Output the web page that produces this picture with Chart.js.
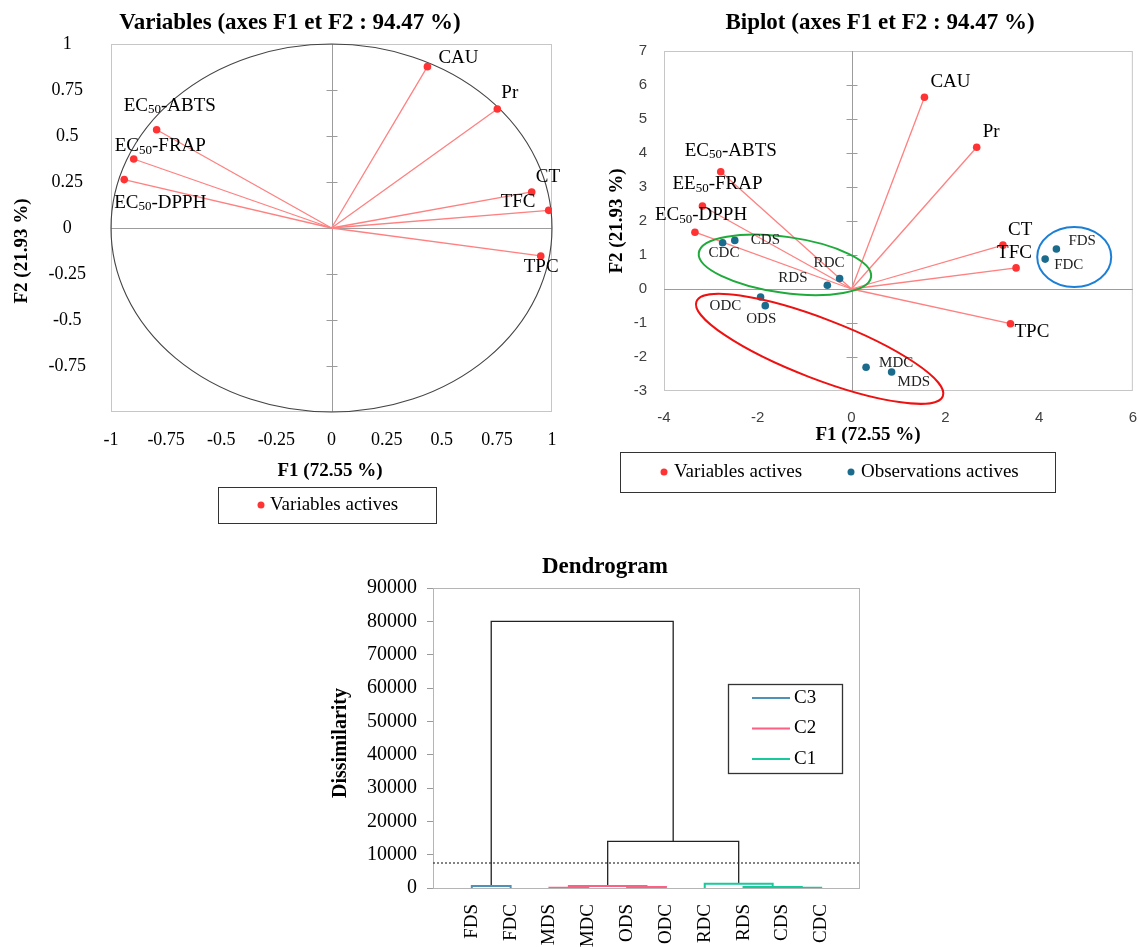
<!DOCTYPE html>
<html>
<head>
<meta charset="utf-8">
<title>ACP et dendrogramme</title>
<script src="https://cdn.jsdelivr.net/npm/chart.js"></script>
<style>
  html, body { margin: 0; padding: 0; background: #fff; overflow: hidden; }
  body { width: 1139px; height: 947px; position: relative; }
  .box { position: absolute; }
  #wrap1 { left: 0; top: 0; width: 575px; height: 530px; }
  #wrap2 { left: 575px; top: 0; width: 580px; height: 500px; }
  #wrap3 { left: 320px; top: 550px; width: 560px; height: 397px; }
</style>
</head>
<body>
<div class="box" id="wrap1"><canvas id="varChart" width="575" height="530"></canvas></div>
<div class="box" id="wrap2"><canvas id="biChart" width="580" height="500"></canvas></div>
<div class="box" id="wrap3"><canvas id="dendroChart" width="560" height="397"></canvas></div>
<script>
// ---- data ----
const varNames = ['CAU', 'Pr', 'EC50-ABTS', 'EC50-FRAP', 'EC50-DPPH', 'CT', 'TFC', 'TPC'];
const varF1 = [0.435, 0.752, -0.793, -0.897, -0.94, 0.908, 0.985, 0.949];
const varF2 = [0.877, 0.647, 0.534, 0.375, 0.263, 0.196, 0.096, -0.152];
const circleTicks = [-1, -0.75, -0.5, -0.25, 0, 0.25, 0.5, 0.75, 1];

const biVarNames = ['CAU', 'Pr', 'EC50-ABTS', 'EE50-FRAP', 'EC50-DPPH', 'CT', 'TFC', 'TPC'];
const biVarF1 = [1.555, 2.67, -2.79, -3.18, -3.34, 3.23, 3.51, 3.39];
const biVarF2 = [5.64, 4.17, 3.45, 2.44, 1.67, 1.29, 0.62, -1.02];
const obsNames = ['CDC', 'CDS', 'RDC', 'RDS', 'ODC', 'ODS', 'MDC', 'MDS', 'FDS', 'FDC'];
const obsF1 = [-2.75, -2.49, -0.254, -0.516, -1.94, -1.84, 0.31, 0.855, 4.37, 4.13];
const obsF2 = [1.36, 1.43, 0.31, 0.11, -0.235, -0.49, -2.30, -2.44, 1.175, 0.88];
const biXTicks = [-4, -2, 0, 2, 4, 6];
const biYTicks = [-3, -2, -1, 0, 1, 2, 3, 4, 5, 6, 7];

const leafNames = ['FDS', 'FDC', 'MDS', 'MDC', 'ODS', 'ODC', 'RDC', 'RDS', 'CDS', 'CDC'];
const mergeA = ['FDS', 'MDS', 'ODS', 'm1', 'CDS', 'RDS', 'RDC', 'm3', 'm0'];
const mergeB = ['FDC', 'MDC', 'ODC', 'm2', 'CDC', 'm4', 'm5', 'm6', 'm7'];
const mergeH = [600, 50, 300, 600, 50, 300, 1300, 14000, 80000];
const mergeCl = ['C3', 'C2', 'C2', 'C2', 'C1', 'C1', 'C1', '', ''];
const cutHeight = 7500;
const dissTicks = [0, 10000, 20000, 30000, 40000, 50000, 60000, 70000, 80000, 90000];

// ---- styling ----
const SERIF = '"Liberation Serif", "Times New Roman", serif';
const SANS = '"Liberation Sans", Arial, sans-serif';
Chart.defaults.font.family = SERIF;
Chart.defaults.color = '#000';

const RED_LINE = '#ff8080', RED_PT = '#ff3333', BLUE_PT = '#1b6b8c';
const clusterColors = { C3: '#4d93b8', C2: '#ff5f82', C1: '#17c99b', '': '#222' };

// label offsets (px) from each point: left edge, vertical middle
const varLabelOff = [[11, -9], [4, -16], [-33, -24], [-19, -13], [-10, 23], [4, -15], [-48, -8], [-17, 11]];
const biVarLabelOff = [[6, -15], [6, -15], [-36, -21], [-30, -22], [-40, -17], [5, -15], [-19, -15], [4, 8]];
const obsLabelOff = [[-14, 10], [16, 0], [-26, -15], [-49, -7], [-51, 9], [-19, 13], [13, -4], [6, 10], [12, -8], [9, 6]];
// group rings on the biplot: centre in data units, radii in px
const rings = [
  { cx: -1.42, cy: 0.71, rx: 87, ry: 28, rot: 8, color: '#1faa3c' },
  { cx: -0.68, cy: -1.76, rx: 132, ry: 30, rot: 21, color: '#ee1111' },
  { cx: 4.75, cy: 0.94, rx: 37, ry: 30, rot: 0, color: '#1c7fd6' }
];

// text with "50" as a subscript
function drawRich(ctx, text, x, y, size, color) {
  ctx.fillStyle = color || '#000';
  ctx.textAlign = 'left';
  ctx.textBaseline = 'middle';
  const m = text.match(/^(E[CE])(50)(.*)$/);
  ctx.font = size + 'px ' + SERIF;
  if (!m) { ctx.fillText(text, x, y); return; }
  ctx.fillText(m[1], x, y);
  x += ctx.measureText(m[1]).width;
  ctx.font = Math.round(size * 0.68) + 'px ' + SERIF;
  ctx.fillText(m[2], x, y + size * 0.22);
  x += ctx.measureText(m[2]).width;
  ctx.font = size + 'px ' + SERIF;
  ctx.fillText(m[3], x, y);
}

function text(ctx, s, x, y, font, align, rot) {
  ctx.save();
  ctx.font = font;
  ctx.fillStyle = '#000';
  ctx.textAlign = align || 'center';
  ctx.textBaseline = 'middle';
  ctx.translate(x, y);
  if (rot) ctx.rotate(rot);
  ctx.fillText(s, 0, 0);
  ctx.restore();
}

function dot(ctx, x, y, r, color) {
  ctx.beginPath();
  ctx.arc(x, y, r, 0, Math.PI * 2);
  ctx.fillStyle = color;
  ctx.fill();
}

function fixedAxis(size, key) {
  return function (scale) { scale[key] = size; };
}

function frameAndCross(chart, crossTicks) {
  const { ctx, chartArea: a, scales: { x, y } } = chart;
  ctx.save();
  ctx.lineWidth = 1;
  ctx.strokeStyle = '#c6c6c6';
  ctx.strokeRect(a.left + 0.5, a.top + 0.5, a.width - 1, a.height - 1);
  const x0 = Math.round(x.getPixelForValue(0)) + 0.5;
  const y0 = Math.round(y.getPixelForValue(0)) + 0.5;
  ctx.strokeStyle = '#9c9c9c';
  ctx.beginPath();
  ctx.moveTo(x0, a.top); ctx.lineTo(x0, a.bottom);
  ctx.moveTo(a.left, y0); ctx.lineTo(a.right, y0);
  crossTicks.forEach(v => {
    const py = Math.round(y.getPixelForValue(v)) + 0.5;
    if (py <= a.top + 1 || py >= a.bottom - 1 || v === 0) return;
    ctx.moveTo(x0 - 6, py); ctx.lineTo(x0 + 5, py);
  });
  ctx.stroke();
  ctx.restore();
}

const noUi = { legend: { display: false }, tooltip: { enabled: false } };

// ================= Chart 1: correlation circle =================
const varSets = varNames.map((n, i) => ({
  data: [{ x: 0, y: 0 }, { x: varF1[i], y: varF2[i] }],
  showLine: true, borderColor: RED_LINE, borderWidth: 1.3, pointRadius: 0, order: 2
}));
varSets.push({
  data: varF1.map((v, i) => ({ x: v, y: varF2[i] })),
  backgroundColor: RED_PT, borderWidth: 0, pointRadius: 3.8, order: 1
});

const varExtras = {
  id: 'varExtras',
  beforeDatasetsDraw(chart) {
    frameAndCross(chart, circleTicks);
    const { ctx, scales: { x, y } } = chart;
    ctx.save();
    ctx.strokeStyle = '#444';
    ctx.lineWidth = 1.1;
    ctx.beginPath();
    ctx.ellipse(x.getPixelForValue(0), y.getPixelForValue(0),
      x.getPixelForValue(1) - x.getPixelForValue(0),
      y.getPixelForValue(0) - y.getPixelForValue(1), 0, 0, Math.PI * 2);
    ctx.stroke();
    ctx.restore();
  },
  afterDraw(chart) {
    const { ctx, scales: { x, y } } = chart;
    ctx.save();
    varNames.forEach((n, i) => {
      drawRich(ctx, n, x.getPixelForValue(varF1[i]) + varLabelOff[i][0],
        y.getPixelForValue(varF2[i]) + varLabelOff[i][1], 19);
    });
    text(ctx, 'Variables (axes F1 et F2 : 94.47 %)', 290, 23, 'bold 23px ' + SERIF);
    text(ctx, 'F1 (72.55 %)', 330, 471, 'bold 19px ' + SERIF);
    text(ctx, 'F2 (21.93 %)', 22, 251, 'bold 19px ' + SERIF, 'center', -Math.PI / 2);
    ctx.strokeStyle = '#333';
    ctx.lineWidth = 1;
    ctx.strokeRect(218.5, 487.5, 218, 36);
    dot(ctx, 261, 505, 3.5, RED_PT);
    text(ctx, 'Variables actives', 270, 505, '19px ' + SERIF, 'left');
    ctx.restore();
  }
};

new Chart(document.getElementById('varChart'), {
  type: 'scatter',
  data: { datasets: varSets },
  options: {
    responsive: false, animation: false,
    layout: { padding: { left: 0, right: 23, top: 44, bottom: 68 } },
    plugins: noUi,
    scales: {
      x: {
        type: 'linear', min: -1, max: 1,
        afterBuildTicks: s => { s.ticks = circleTicks.map(v => ({ value: v })); },
        afterFit: fixedAxis(50, 'height'),
        grid: { display: false, drawTicks: false }, border: { display: false },
        ticks: { padding: 17, font: { size: 18 }, color: '#000', callback: v => String(v) }
      },
      y: {
        type: 'linear', min: -1, max: 1,
        afterBuildTicks: s => { s.ticks = circleTicks.map(v => ({ value: v })); },
        afterFit: fixedAxis(111, 'width'),
        grid: { display: false, drawTicks: false }, border: { display: false },
        ticks: { padding: 25, crossAlign: 'center', font: { size: 18 }, color: '#000',
          callback: v => (v === -1 ? '' : String(v)) }
      }
    }
  },
  plugins: [varExtras]
});

// ================= Chart 2: biplot =================
const biSets = biVarNames.map((n, i) => ({
  data: [{ x: 0, y: 0 }, { x: biVarF1[i], y: biVarF2[i] }],
  showLine: true, borderColor: RED_LINE, borderWidth: 1.3, pointRadius: 0, order: 3
}));
biSets.push({
  data: biVarF1.map((v, i) => ({ x: v, y: biVarF2[i] })),
  backgroundColor: RED_PT, borderWidth: 0, pointRadius: 3.8, order: 1
});
biSets.push({
  data: obsF1.map((v, i) => ({ x: v, y: obsF2[i] })),
  backgroundColor: BLUE_PT, borderWidth: 0, pointRadius: 3.8, order: 1
});

const biExtras = {
  id: 'biExtras',
  beforeDatasetsDraw(chart) {
    frameAndCross(chart, biYTicks);
  },
  afterDatasetsDraw(chart) {
    const { ctx, scales: { x, y } } = chart;
    ctx.save();
    ctx.lineWidth = 2;
    rings.forEach(r => {
      ctx.strokeStyle = r.color;
      ctx.beginPath();
      ctx.ellipse(x.getPixelForValue(r.cx), y.getPixelForValue(r.cy), r.rx, r.ry,
        r.rot * Math.PI / 180, 0, Math.PI * 2);
      ctx.stroke();
    });
    ctx.restore();
  },
  afterDraw(chart) {
    const { ctx, scales: { x, y } } = chart;
    ctx.save();
    biVarNames.forEach((n, i) => {
      drawRich(ctx, n, x.getPixelForValue(biVarF1[i]) + biVarLabelOff[i][0],
        y.getPixelForValue(biVarF2[i]) + biVarLabelOff[i][1], 19);
    });
    obsNames.forEach((n, i) => {
      drawRich(ctx, n, x.getPixelForValue(obsF1[i]) + obsLabelOff[i][0],
        y.getPixelForValue(obsF2[i]) + obsLabelOff[i][1], 15, '#222');
    });
    text(ctx, 'Biplot (axes F1 et F2 : 94.47 %)', 305, 23, 'bold 23px ' + SERIF);
    text(ctx, 'F1 (72.55 %)', 293, 435, 'bold 19px ' + SERIF);
    text(ctx, 'F2 (21.93 %)', 42, 221, 'bold 19px ' + SERIF, 'center', -Math.PI / 2);
    ctx.strokeStyle = '#333';
    ctx.lineWidth = 1;
    ctx.strokeRect(45.5, 452.5, 435, 40);
    dot(ctx, 89, 472, 3.5, RED_PT);
    text(ctx, 'Variables actives', 99, 472, '19px ' + SERIF, 'left');
    dot(ctx, 276, 472, 3.5, BLUE_PT);
    text(ctx, 'Observations actives', 286, 472, '19px ' + SERIF, 'left');
    ctx.restore();
  }
};

new Chart(document.getElementById('biChart'), {
  type: 'scatter',
  data: { datasets: biSets },
  options: {
    responsive: false, animation: false,
    layout: { padding: { left: 0, right: 19, top: 51, bottom: 64 } },
    plugins: noUi,
    scales: {
      x: {
        type: 'linear', min: -4, max: 6,
        afterBuildTicks: s => { s.ticks = biXTicks.map(v => ({ value: v })); },
        afterFit: fixedAxis(45, 'height'),
        grid: { display: false, drawTicks: false }, border: { display: false },
        ticks: { padding: 18, font: { size: 15, family: SANS }, color: '#404040', callback: v => String(v) }
      },
      y: {
        type: 'linear', min: -3, max: 7,
        afterBuildTicks: s => { s.ticks = biYTicks.map(v => ({ value: v })); },
        afterFit: fixedAxis(89, 'width'),
        grid: { display: false, drawTicks: false }, border: { display: false },
        ticks: { padding: 17, font: { size: 15, family: SANS }, color: '#404040', callback: v => String(v) }
      }
    }
  },
  plugins: [biExtras]
});

// ================= Chart 3: dendrogram =================
const nodeX = {}, nodeH = {};
leafNames.forEach((n, i) => { nodeX[n] = i + 1; nodeH[n] = 0; });
const dendroSets = mergeA.map((a, k) => {
  const b = mergeB[k], h = mergeH[k];
  const seg = [
    { x: nodeX[a], y: nodeH[a] }, { x: nodeX[a], y: h },
    { x: nodeX[b], y: h }, { x: nodeX[b], y: nodeH[b] }
  ];
  nodeX['m' + k] = (nodeX[a] + nodeX[b]) / 2;
  nodeH['m' + k] = h;
  return {
    data: seg, showLine: true, pointRadius: 0,
    borderColor: clusterColors[mergeCl[k]], borderWidth: mergeCl[k] ? 2 : 1.3,
    order: mergeCl[k] ? 1 : 2
  };
});
dendroSets.push({
  data: [{ x: 0, y: cutHeight }, { x: leafNames.length + 1, y: cutHeight }],
  showLine: true, pointRadius: 0, borderColor: '#333', borderWidth: 1.2, borderDash: [2, 2], order: 3
});

const dendroExtras = {
  id: 'dendroExtras',
  beforeDatasetsDraw(chart) {
    const { ctx, chartArea: a } = chart;
    ctx.save();
    ctx.strokeStyle = '#b5b5b5';
    ctx.lineWidth = 1;
    ctx.strokeRect(a.left + 0.5, a.top + 0.5, a.width - 1, a.height);
    ctx.restore();
  },
  afterDraw(chart) {
    const { ctx } = chart;
    ctx.save();
    text(ctx, 'Dendrogram', 285, 17, 'bold 23px ' + SERIF);
    text(ctx, 'Dissimilarity', 21, 193, 'bold 20px ' + SERIF, 'center', -Math.PI / 2);
    ctx.fillStyle = '#fff';
    ctx.fillRect(408, 134, 114, 89);
    ctx.strokeStyle = '#333';
    ctx.lineWidth = 1.3;
    ctx.strokeRect(408.5, 134.5, 114, 89);
    ['C3', 'C2', 'C1'].forEach((c, i) => {
      const yy = 148 + i * 30.5;
      ctx.strokeStyle = clusterColors[c];
      ctx.lineWidth = 2;
      ctx.beginPath(); ctx.moveTo(432, yy); ctx.lineTo(470, yy); ctx.stroke();
      text(ctx, c, 474, yy, '19px ' + SERIF, 'left');
    });
    ctx.restore();
  }
};

new Chart(document.getElementById('dendroChart'), {
  type: 'scatter',
  data: { datasets: dendroSets },
  options: {
    responsive: false, animation: false,
    layout: { padding: { left: 0, right: 20, top: 38, bottom: 0 } },
    plugins: noUi,
    scales: {
      x: {
        type: 'linear', min: 0, max: leafNames.length + 1,
        afterBuildTicks: s => { s.ticks = leafNames.map((n, i) => ({ value: i + 1 })); },
        afterFit: fixedAxis(59, 'height'),
        grid: { display: false, drawTicks: false }, border: { display: false },
        ticks: { autoSkip: false, minRotation: 90, maxRotation: 90, padding: 16,
          font: { size: 19 }, color: '#000', callback: v => leafNames[v - 1] }
      },
      y: {
        type: 'linear', min: 0, max: 90000,
        afterBuildTicks: s => { s.ticks = dissTicks.map(v => ({ value: v })); },
        afterFit: fixedAxis(113, 'width'),
        grid: { drawOnChartArea: false, drawTicks: true, tickLength: 6, color: '#9a9a9a' },
        border: { display: true, color: '#9a9a9a' },
        ticks: { padding: 10, font: { size: 20 }, color: '#000', callback: v => String(v) }
      }
    }
  },
  plugins: [dendroExtras]
});
</script>
</body>
</html>
